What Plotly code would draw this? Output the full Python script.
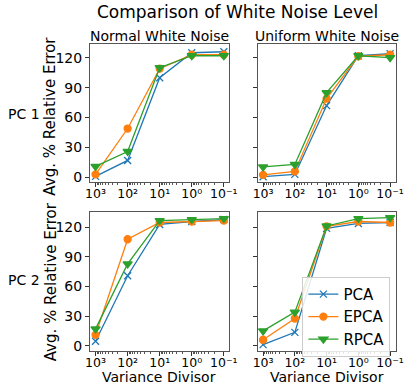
import plotly.graph_objects as go

divisors = [1000, 100, 10, 1, 0.1]
tick_text = ["10\u00b3", "10\u00b2", "10\u00b9", "10\u2070", "10\u207b\u00b9"]
methods = ["PCA", "EPCA", "RPCA"]

# PC 1, Normal White Noise
pc1_normal_pca = [1, 17, 100, 125, 126]
pc1_normal_epca = [3, 49, 109, 123, 123]
pc1_normal_rpca = [11, 26, 110, 122, 122]
# PC 1, Uniform White Noise
pc1_uniform_pca = [0.7, 3, 72, 122, 124]
pc1_uniform_epca = [2.5, 6, 79, 121.5, 123]
pc1_uniform_rpca = [10.5, 13, 85, 122, 120]
# PC 2, Normal White Noise
pc2_normal_pca = [4.5, 71, 123, 126, 128]
pc2_normal_epca = [11, 108, 125, 126, 127]
pc2_normal_rpca = [17, 83, 127, 128, 129]
# PC 2, Uniform White Noise
pc2_uniform_pca = [1, 13.5, 119, 124, 125]
pc2_uniform_epca = [6, 27.5, 121, 126, 125]
pc2_uniform_rpca = [15, 34, 121.5, 129, 130]

colors = {"PCA": "#1f77b4", "EPCA": "#ff7f0e", "RPCA": "#2ca02c"}
symbols = {"PCA": "x-thin", "EPCA": "circle", "RPCA": "triangle-down"}
sizes = {"PCA": 7, "EPCA": 7, "RPCA": 8}

panels = [
    ("x", "y", [pc1_normal_pca, pc1_normal_epca, pc1_normal_rpca]),
    ("x2", "y2", [pc1_uniform_pca, pc1_uniform_epca, pc1_uniform_rpca]),
    ("x3", "y3", [pc2_normal_pca, pc2_normal_epca, pc2_normal_rpca]),
    ("x4", "y4", [pc2_uniform_pca, pc2_uniform_epca, pc2_uniform_rpca]),
]

fig = go.Figure()
for i, (xa, ya, series) in enumerate(panels):
    for m, vals in zip(methods, series):
        fig.add_trace(go.Scatter(
            x=divisors, y=vals, xaxis=xa, yaxis=ya, name=m,
            mode="lines+markers",
            line=dict(color=colors[m], width=1.3),
            marker=dict(symbol=symbols[m], size=sizes[m], color=colors[m],
                        line=dict(color=colors[m], width=1.3)),
            showlegend=(i == 3),
        ))

W, H = 415, 389

def px(X):
    return X / W

def py(Y):
    return 1 - Y / H

font = "DejaVu Sans"
xcols = [[px(87.7), px(231.7)], [px(260.7), px(403.3)]]
yrows = [[py(183.3), py(44.3)], [py(353.3), py(213.3)]]
yranges = [[-4.5, 133.8], [-5, 136]]
minor_vals = [v * k for v in [0.1, 1, 10, 100, 1000] for k in range(2, 10) if v * k < 1400]
anchors = {(0, 0): "y", (1, 0): "y2", (0, 1): "y3", (1, 1): "y4"}

def xaxis(col, row):
    return dict(domain=xcols[col], type="log", range=[3.175, -1.175],
                tickvals=divisors, ticktext=tick_text, ticks="outside", ticklen=4,
                tickcolor="#333", showgrid=False, zeroline=False,
                showline=True, linecolor="#555", linewidth=1, mirror=True,
                tickfont=dict(family=font, size=12.5, color="#000"), ticklabelstandoff=-4,
                anchor=anchors[(col, row)],
                minor=dict(ticks="outside", ticklen=2, tickcolor="#555", tickvals=minor_vals))

def yaxis(col, row, anchor):
    return dict(domain=yrows[row], range=yranges[row], tickvals=[0, 30, 60, 90, 120],
                ticks="outside", ticklen=4, tickcolor="#333", showgrid=False, zeroline=False,
                showline=True, linecolor="#555", linewidth=1, mirror=True,
                showticklabels=(col == 0),
                tickfont=dict(family=font, size=14, color="#000"), anchor=anchor)

fig.update_layout(
    width=W, height=H, margin=dict(l=0, r=0, t=0, b=0),
    paper_bgcolor="white", plot_bgcolor="white",
    font=dict(family=font, color="#000"),
    xaxis=xaxis(0, 0), yaxis=yaxis(0, 0, "x"),
    xaxis2=xaxis(1, 0), yaxis2=yaxis(1, 0, "x2"),
    xaxis3=xaxis(0, 1), yaxis3=yaxis(0, 1, "x3"),
    xaxis4=xaxis(1, 1), yaxis4=yaxis(1, 1, "x4"),
    legend=dict(x=px(307), y=py(279), xanchor="left", yanchor="top",
                bgcolor="rgba(255,255,255,0.85)", bordercolor="#ccc", borderwidth=1,
                font=dict(family=font, size=15), tracegroupgap=0, itemwidth=30),
    showlegend=True,
)

ann = [
    dict(text="Comparison of White Noise Level", x=240, y=12, size=17, angle=0),
    dict(text="Normal White Noise", x=159, y=36, size=14, angle=0),
    dict(text="Uniform White Noise", x=332, y=36, size=14, angle=0),
    dict(text="PC 1", x=20, y=115, size=14, angle=0),
    dict(text="PC 2", x=20, y=282, size=14, angle=0),
    dict(text="Avg. % Relative Error", x=47, y=117, size=15, angle=-90),
    dict(text="Avg. % Relative Error", x=47, y=284, size=15, angle=-90),
    dict(text="Variance Divisor", x=159, y=380, size=14, angle=0),
    dict(text="Variance Divisor", x=332, y=380, size=14, angle=0),
]
for a in ann:
    fig.add_annotation(text=a["text"], x=px(a["x"]), y=py(a["y"]),
                       xref="paper", yref="paper", xanchor="center", yanchor="middle",
                       showarrow=False, textangle=a["angle"],
                       font=dict(family=font, size=a["size"], color="#000"))

# remove the browser's default 8px body margin so the figure sits at the page origin
fig.write_html("out.html", config={"displayModeBar": False},
               post_script="document.body.style.margin='0';")
